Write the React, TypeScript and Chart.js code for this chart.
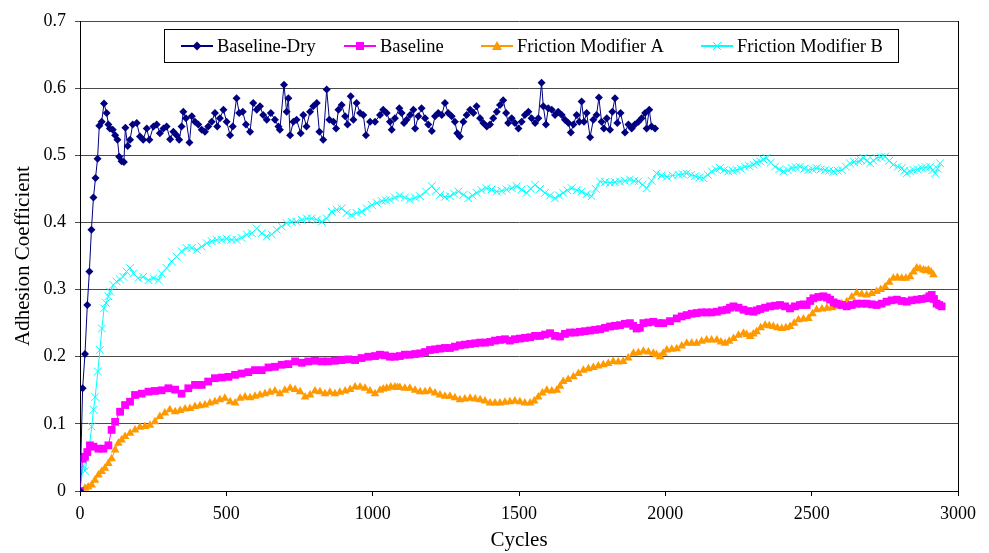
import React, { useEffect, useRef } from 'react';
import { Chart, registerables } from 'chart.js';

Chart.register(...registerables);

const seriesNames = ['Baseline-Dry', 'Baseline', 'Friction Modifier A', 'Friction Modifier B'];
const seriesColors = ['#000080', '#FF00FF', '#FF9900', '#00FFFF'];
const xTickValues = [0, 500, 1000, 1500, 2000, 2500, 3000];
const yTickValues = [0, 0.1, 0.2, 0.3, 0.4, 0.5, 0.6, 0.7];

const dryCycles = [0, 9, 17, 25, 32, 39, 46, 53, 60, 66, 74, 82, 91, 97, 102, 112, 120, 128, 134, 142, 150, 155, 163, 171, 180, 194, 205, 216, 228, 237, 251, 262, 273, 285, 296, 308, 319, 330, 339, 347, 353, 362, 374, 382, 393, 404, 416, 427, 438, 450, 461, 469, 478, 490, 501, 513, 522, 535, 544, 556, 567, 581, 592, 604, 615, 626, 638, 652, 666, 678, 683, 697, 706, 712, 718, 729, 740, 754, 763, 774, 786, 797, 809, 818, 831, 843, 852, 866, 875, 883, 894, 906, 914, 925, 934, 945, 957, 968, 977, 991, 1008, 1025, 1036, 1048, 1059, 1065, 1076, 1091, 1099, 1107, 1116, 1128, 1139, 1145, 1156, 1167, 1179, 1190, 1202, 1213, 1224, 1236, 1247, 1258, 1270, 1281, 1289, 1298, 1310, 1321, 1333, 1344, 1355, 1367, 1378, 1390, 1401, 1412, 1424, 1435, 1446, 1456, 1463, 1475, 1486, 1498, 1509, 1520, 1532, 1543, 1555, 1566, 1577, 1583, 1592, 1600, 1612, 1623, 1634, 1646, 1657, 1669, 1677, 1686, 1697, 1706, 1714, 1722, 1731, 1743, 1754, 1765, 1773, 1782, 1790, 1800, 1811, 1819, 1828, 1836, 1847, 1862, 1874, 1885, 1896, 1908, 1919, 1931, 1936, 1945, 1953, 1965];
const dryValues = [0, 0.153, 0.204, 0.277, 0.327, 0.389, 0.437, 0.466, 0.495, 0.544, 0.55, 0.577, 0.563, 0.546, 0.54, 0.538, 0.53, 0.523, 0.498, 0.491, 0.49, 0.541, 0.514, 0.523, 0.546, 0.548, 0.528, 0.523, 0.54, 0.523, 0.543, 0.546, 0.533, 0.54, 0.543, 0.524, 0.535, 0.53, 0.523, 0.543, 0.565, 0.555, 0.519, 0.558, 0.55, 0.546, 0.538, 0.535, 0.543, 0.55, 0.563, 0.543, 0.555, 0.568, 0.55, 0.53, 0.543, 0.585, 0.563, 0.565, 0.546, 0.535, 0.578, 0.568, 0.573, 0.56, 0.553, 0.563, 0.553, 0.543, 0.538, 0.605, 0.565, 0.585, 0.53, 0.55, 0.553, 0.533, 0.56, 0.543, 0.565, 0.573, 0.578, 0.535, 0.523, 0.598, 0.553, 0.55, 0.54, 0.568, 0.575, 0.558, 0.546, 0.588, 0.553, 0.578, 0.563, 0.56, 0.53, 0.55, 0.55, 0.56, 0.568, 0.563, 0.55, 0.538, 0.555, 0.57, 0.563, 0.548, 0.553, 0.56, 0.568, 0.54, 0.558, 0.57, 0.555, 0.546, 0.536, 0.558, 0.563, 0.56, 0.578, 0.563, 0.558, 0.55, 0.533, 0.528, 0.55, 0.56, 0.568, 0.563, 0.573, 0.555, 0.548, 0.543, 0.546, 0.555, 0.565, 0.575, 0.582, 0.563, 0.548, 0.555, 0.548, 0.54, 0.55, 0.56, 0.565, 0.555, 0.548, 0.555, 0.608, 0.573, 0.546, 0.57, 0.568, 0.56, 0.565, 0.56, 0.553, 0.548, 0.534, 0.546, 0.56, 0.55, 0.58, 0.55, 0.563, 0.527, 0.553, 0.56, 0.586, 0.55, 0.54, 0.555, 0.538, 0.565, 0.585, 0.548, 0.563, 0.534, 0.546, 0.54, 0.546, 0.55, 0.555, 0.563, 0.54, 0.568, 0.543, 0.54];

const baseCycles = [0, 9, 17, 25, 34, 46, 63, 80, 97, 108, 120, 137, 154, 171, 188, 211, 234, 256, 279, 302, 325, 347, 370, 393, 416, 438, 461, 484, 507, 530, 552, 575, 598, 621, 644, 666, 689, 712, 735, 758, 780, 803, 826, 848, 871, 894, 917, 940, 962, 985, 1008, 1025, 1042, 1059, 1076, 1093, 1110, 1127, 1145, 1162, 1179, 1196, 1213, 1230, 1247, 1264, 1281, 1298, 1315, 1333, 1350, 1367, 1384, 1401, 1418, 1435, 1452, 1469, 1486, 1503, 1520, 1538, 1555, 1572, 1589, 1606, 1623, 1640, 1657, 1674, 1691, 1708, 1725, 1743, 1760, 1777, 1794, 1811, 1828, 1845, 1862, 1879, 1890, 1902, 1913, 1925, 1942, 1959, 1976, 1993, 2016, 2039, 2056, 2073, 2090, 2107, 2124, 2141, 2158, 2176, 2193, 2210, 2221, 2233, 2250, 2267, 2284, 2301, 2312, 2324, 2341, 2358, 2375, 2392, 2409, 2426, 2443, 2460, 2472, 2483, 2495, 2506, 2523, 2540, 2552, 2563, 2575, 2586, 2603, 2620, 2637, 2654, 2671, 2688, 2705, 2722, 2739, 2756, 2773, 2791, 2808, 2825, 2842, 2859, 2876, 2893, 2902, 2910, 2918, 2927, 2936, 2944];
const baseValues = [0, 0.048, 0.051, 0.058, 0.068, 0.066, 0.063, 0.063, 0.068, 0.091, 0.103, 0.118, 0.128, 0.133, 0.143, 0.145, 0.148, 0.149, 0.15, 0.153, 0.151, 0.145, 0.153, 0.158, 0.158, 0.163, 0.168, 0.169, 0.17, 0.173, 0.175, 0.177, 0.18, 0.18, 0.184, 0.185, 0.188, 0.189, 0.193, 0.191, 0.193, 0.194, 0.193, 0.193, 0.194, 0.195, 0.196, 0.195, 0.198, 0.2, 0.201, 0.203, 0.202, 0.2, 0.2, 0.201, 0.203, 0.203, 0.204, 0.205, 0.207, 0.21, 0.211, 0.212, 0.213, 0.213, 0.215, 0.217, 0.218, 0.219, 0.22, 0.221, 0.221, 0.222, 0.224, 0.225, 0.226, 0.224, 0.226, 0.227, 0.228, 0.229, 0.231, 0.231, 0.233, 0.235, 0.231, 0.23, 0.234, 0.236, 0.236, 0.237, 0.238, 0.239, 0.24, 0.241, 0.243, 0.245, 0.246, 0.247, 0.249, 0.25, 0.246, 0.242, 0.243, 0.25, 0.251, 0.252, 0.25, 0.25, 0.253, 0.257, 0.26, 0.262, 0.264, 0.265, 0.266, 0.266, 0.266, 0.267, 0.269, 0.27, 0.273, 0.275, 0.273, 0.27, 0.268, 0.267, 0.269, 0.271, 0.273, 0.275, 0.276, 0.277, 0.275, 0.272, 0.275, 0.277, 0.278, 0.277, 0.283, 0.287, 0.289, 0.29, 0.288, 0.285, 0.281, 0.279, 0.277, 0.275, 0.277, 0.279, 0.279, 0.279, 0.278, 0.277, 0.279, 0.282, 0.284, 0.285, 0.283, 0.282, 0.284, 0.285, 0.286, 0.287, 0.29, 0.292, 0.286, 0.279, 0.277, 0.275];

const fmaCycles = [0, 17, 28, 40, 51, 63, 74, 85, 97, 108, 120, 131, 142, 154, 171, 188, 205, 222, 239, 256, 273, 290, 307, 325, 342, 359, 376, 393, 410, 427, 444, 461, 478, 495, 513, 530, 547, 564, 581, 598, 615, 632, 649, 666, 683, 700, 718, 735, 752, 769, 786, 803, 820, 837, 854, 871, 888, 906, 923, 940, 957, 974, 991, 1008, 1025, 1036, 1048, 1062, 1076, 1085, 1093, 1110, 1127, 1145, 1162, 1179, 1196, 1213, 1230, 1247, 1264, 1281, 1298, 1315, 1333, 1350, 1367, 1384, 1401, 1418, 1435, 1452, 1469, 1486, 1503, 1520, 1538, 1552, 1566, 1580, 1595, 1612, 1629, 1640, 1651, 1668, 1686, 1703, 1720, 1737, 1754, 1771, 1788, 1805, 1822, 1839, 1856, 1873, 1891, 1908, 1925, 1942, 1959, 1970, 1982, 1993, 2005, 2022, 2039, 2056, 2073, 2090, 2107, 2124, 2141, 2158, 2176, 2190, 2204, 2218, 2233, 2250, 2267, 2278, 2290, 2301, 2312, 2326, 2341, 2355, 2369, 2383, 2398, 2412, 2426, 2440, 2455, 2472, 2489, 2503, 2517, 2535, 2552, 2569, 2586, 2603, 2620, 2637, 2654, 2671, 2688, 2705, 2722, 2736, 2751, 2765, 2779, 2793, 2808, 2822, 2836, 2848, 2859, 2870, 2882, 2890, 2899, 2908, 2916];
const fmaValues = [0, 0.004, 0.006, 0.009, 0.016, 0.024, 0.029, 0.034, 0.041, 0.048, 0.061, 0.071, 0.076, 0.081, 0.086, 0.091, 0.095, 0.096, 0.098, 0.103, 0.111, 0.116, 0.121, 0.118, 0.12, 0.122, 0.123, 0.126, 0.127, 0.128, 0.131, 0.133, 0.136, 0.138, 0.133, 0.131, 0.138, 0.14, 0.139, 0.141, 0.143, 0.145, 0.147, 0.149, 0.145, 0.15, 0.153, 0.151, 0.148, 0.14, 0.143, 0.149, 0.148, 0.145, 0.147, 0.145, 0.147, 0.149, 0.151, 0.155, 0.155, 0.153, 0.149, 0.145, 0.15, 0.152, 0.153, 0.155, 0.155, 0.154, 0.154, 0.153, 0.153, 0.15, 0.148, 0.148, 0.149, 0.146, 0.143, 0.141, 0.141, 0.139, 0.136, 0.137, 0.138, 0.137, 0.136, 0.134, 0.131, 0.131, 0.131, 0.132, 0.133, 0.134, 0.133, 0.131, 0.131, 0.134, 0.14, 0.146, 0.15, 0.149, 0.15, 0.156, 0.163, 0.166, 0.17, 0.175, 0.18, 0.182, 0.184, 0.186, 0.188, 0.19, 0.193, 0.192, 0.193, 0.198, 0.205, 0.206, 0.208, 0.207, 0.205, 0.203, 0.2, 0.205, 0.21, 0.211, 0.212, 0.216, 0.22, 0.22, 0.22, 0.223, 0.225, 0.225, 0.225, 0.222, 0.22, 0.223, 0.227, 0.232, 0.235, 0.233, 0.23, 0.234, 0.237, 0.243, 0.247, 0.246, 0.245, 0.243, 0.242, 0.243, 0.245, 0.25, 0.255, 0.256, 0.257, 0.264, 0.27, 0.271, 0.272, 0.273, 0.275, 0.279, 0.282, 0.289, 0.295, 0.293, 0.292, 0.294, 0.297, 0.3, 0.304, 0.311, 0.317, 0.318, 0.317, 0.317, 0.319, 0.326, 0.332, 0.331, 0.329, 0.328, 0.329, 0.326, 0.322];

const fmbCycles = [0, 11, 17, 32, 40, 46, 52, 61, 68, 75, 82, 89, 97, 103, 114, 125, 137, 148, 159, 171, 182, 199, 216, 234, 251, 268, 279, 296, 313, 330, 347, 364, 382, 399, 416, 433, 450, 467, 484, 501, 518, 535, 552, 570, 587, 604, 621, 638, 655, 672, 689, 706, 723, 740, 758, 775, 792, 809, 826, 843, 860, 877, 894, 911, 928, 945, 962, 980, 997, 1014, 1031, 1045, 1059, 1076, 1093, 1110, 1127, 1145, 1162, 1182, 1202, 1216, 1230, 1247, 1264, 1278, 1293, 1310, 1327, 1341, 1355, 1372, 1389, 1406, 1424, 1441, 1458, 1475, 1492, 1509, 1526, 1540, 1555, 1572, 1589, 1606, 1623, 1637, 1651, 1665, 1680, 1697, 1714, 1731, 1748, 1762, 1777, 1794, 1811, 1828, 1845, 1862, 1879, 1893, 1908, 1922, 1936, 1953, 1970, 1987, 2005, 2025, 2045, 2059, 2073, 2088, 2102, 2116, 2130, 2145, 2159, 2173, 2187, 2201, 2215, 2230, 2244, 2258, 2272, 2287, 2301, 2312, 2324, 2335, 2346, 2360, 2375, 2389, 2403, 2418, 2432, 2446, 2460, 2475, 2489, 2503, 2517, 2531, 2546, 2560, 2574, 2589, 2603, 2617, 2631, 2645, 2660, 2668, 2677, 2689, 2700, 2711, 2722, 2737, 2751, 2765, 2779, 2794, 2808, 2816, 2825, 2836, 2848, 2862, 2876, 2890, 2905, 2913, 2922, 2930, 2939];
const fmbValues = [0, 0.038, 0.03, 0.066, 0.096, 0.121, 0.14, 0.178, 0.21, 0.242, 0.272, 0.28, 0.29, 0.297, 0.307, 0.312, 0.315, 0.319, 0.327, 0.332, 0.324, 0.317, 0.319, 0.314, 0.317, 0.314, 0.324, 0.332, 0.342, 0.349, 0.357, 0.362, 0.362, 0.359, 0.364, 0.369, 0.372, 0.374, 0.374, 0.376, 0.374, 0.374, 0.377, 0.382, 0.384, 0.391, 0.384, 0.379, 0.382, 0.389, 0.394, 0.399, 0.401, 0.401, 0.404, 0.406, 0.406, 0.404, 0.401, 0.406, 0.416, 0.419, 0.421, 0.414, 0.411, 0.414, 0.416, 0.421, 0.426, 0.429, 0.432, 0.433, 0.434, 0.437, 0.44, 0.437, 0.434, 0.437, 0.439, 0.446, 0.454, 0.447, 0.441, 0.438, 0.439, 0.443, 0.446, 0.441, 0.436, 0.44, 0.444, 0.448, 0.451, 0.449, 0.446, 0.447, 0.449, 0.451, 0.454, 0.449, 0.444, 0.45, 0.456, 0.45, 0.444, 0.44, 0.436, 0.44, 0.444, 0.448, 0.451, 0.448, 0.446, 0.442, 0.439, 0.45, 0.461, 0.46, 0.459, 0.46, 0.461, 0.462, 0.464, 0.462, 0.461, 0.456, 0.451, 0.462, 0.473, 0.47, 0.468, 0.47, 0.471, 0.472, 0.473, 0.471, 0.469, 0.467, 0.466, 0.471, 0.476, 0.479, 0.481, 0.478, 0.476, 0.477, 0.478, 0.48, 0.483, 0.484, 0.486, 0.489, 0.491, 0.494, 0.496, 0.489, 0.483, 0.479, 0.476, 0.478, 0.481, 0.482, 0.483, 0.48, 0.478, 0.479, 0.481, 0.479, 0.478, 0.477, 0.476, 0.477, 0.478, 0.483, 0.488, 0.49, 0.491, 0.493, 0.496, 0.492, 0.488, 0.492, 0.496, 0.497, 0.498, 0.492, 0.486, 0.483, 0.481, 0.477, 0.473, 0.476, 0.478, 0.479, 0.481, 0.482, 0.483, 0.478, 0.473, 0.48, 0.488];

const FONT = '"Liberation Serif", "Times New Roman", serif';

function toPoints(xs: number[], ys: number[]) {
  return xs.map((x, i) => ({ x, y: ys[i] }));
}

function drawMarker(ctx: CanvasRenderingContext2D, kind: number, cx: number, cy: number, color: string) {
  ctx.fillStyle = color;
  ctx.strokeStyle = color;
  ctx.lineWidth = 1;
  ctx.beginPath();
  if (kind === 0) {
    ctx.moveTo(cx, cy - 4.5);
    ctx.lineTo(cx + 4.5, cy);
    ctx.lineTo(cx, cy + 4.5);
    ctx.lineTo(cx - 4.5, cy);
    ctx.closePath();
    ctx.fill();
  } else if (kind === 1) {
    ctx.rect(cx - 4, cy - 4, 8, 8);
    ctx.fill();
  } else if (kind === 2) {
    ctx.moveTo(cx, cy - 5);
    ctx.lineTo(cx + 5, cy + 4);
    ctx.lineTo(cx - 5, cy + 4);
    ctx.closePath();
    ctx.fill();
  } else {
    ctx.moveTo(cx - 4, cy - 4);
    ctx.lineTo(cx + 4, cy + 4);
    ctx.moveTo(cx + 4, cy - 4);
    ctx.lineTo(cx - 4, cy + 4);
    ctx.stroke();
  }
}

const boxLegend = {
  id: 'boxLegend',
  afterDraw(chart: any) {
    const ctx: CanvasRenderingContext2D = chart.ctx;
    const area = chart.chartArea;
    ctx.save();
    ctx.strokeStyle = '#000';
    ctx.lineWidth = 1;
    ctx.beginPath();
    const rx = Math.round(area.right) + 0.5;
    ctx.moveTo(rx, area.top);
    ctx.lineTo(rx, area.bottom);
    ctx.stroke();

    const left = 164, top = 29, right = 898, bottom = 62;
    ctx.fillStyle = '#fff';
    ctx.fillRect(left, top, right - left, bottom - top);
    ctx.strokeStyle = '#000';
    ctx.strokeRect(left + 0.5, top + 0.5, right - left, bottom - top);

    const starts = [181, 344, 481, 701];
    const cy = 46;
    ctx.font = '18.5px ' + FONT;
    ctx.textBaseline = 'middle';
    ctx.textAlign = 'left';
    seriesNames.forEach((name, i) => {
      const x = starts[i];
      const color = seriesColors[i];
      ctx.strokeStyle = color;
      ctx.lineWidth = 2;
      ctx.beginPath();
      ctx.moveTo(x, cy);
      ctx.lineTo(x + 32, cy);
      ctx.stroke();
      drawMarker(ctx, i, x + 16, cy, color);
      ctx.fillStyle = '#000';
      ctx.fillText(name, x + 36, cy + 1);
    });
    ctx.restore();
  },
};

export default function App() {
  const ref = useRef<HTMLCanvasElement | null>(null);

  useEffect(() => {
    if (!ref.current) return;
    const chart = new Chart(ref.current, {
      type: 'line',
      data: {
        datasets: [
          {
            label: seriesNames[0],
            data: toPoints(dryCycles, dryValues),
            borderColor: seriesColors[0],
            backgroundColor: seriesColors[0],
            borderWidth: 1,
            pointStyle: 'rectRot',
            pointRadius: 4,
            pointBackgroundColor: seriesColors[0],
            pointBorderColor: seriesColors[0],
            pointBorderWidth: 0,
            tension: 0,
          },
          {
            label: seriesNames[1],
            data: toPoints(baseCycles, baseValues),
            borderColor: seriesColors[1],
            backgroundColor: seriesColors[1],
            borderWidth: 1,
            pointStyle: 'rect',
            pointRadius: 5.5,
            pointBackgroundColor: seriesColors[1],
            pointBorderColor: seriesColors[1],
            pointBorderWidth: 0,
            tension: 0,
          },
          {
            label: seriesNames[2],
            data: toPoints(fmaCycles, fmaValues),
            borderColor: seriesColors[2],
            backgroundColor: seriesColors[2],
            borderWidth: 1,
            pointStyle: 'triangle',
            pointRadius: 5,
            pointBackgroundColor: seriesColors[2],
            pointBorderColor: seriesColors[2],
            pointBorderWidth: 0,
            tension: 0,
          },
          {
            label: seriesNames[3],
            data: toPoints(fmbCycles, fmbValues),
            borderColor: seriesColors[3],
            backgroundColor: seriesColors[3],
            borderWidth: 1,
            pointStyle: 'crossRot',
            pointRadius: 5.5,
            pointBackgroundColor: seriesColors[3],
            pointBorderColor: seriesColors[3],
            pointBorderWidth: 1,
            tension: 0,
          },
        ],
      },
      options: {
        responsive: false,
        animation: false,
        events: [],
        layout: { padding: { top: 21, right: 31, left: 0, bottom: 0 } },
        plugins: { legend: { display: false }, tooltip: { enabled: false } },
        scales: {
          x: {
            type: 'linear',
            min: xTickValues[0],
            max: xTickValues[xTickValues.length - 1],
            afterBuildTicks: (scale: any) => {
              scale.ticks = xTickValues.map((v) => ({ value: v }));
            },
            afterFit: (scale: any) => {
              scale.height = 62;
            },
            ticks: {
              color: '#000',
              font: { family: FONT, size: 18 },
              padding: 7,
              maxRotation: 0,
              autoSkip: false,
              callback: (v: any) => String(v),
            },
            grid: { drawOnChartArea: false, drawTicks: true, tickLength: 5, color: '#000' },
            border: { color: '#000', width: 1 },
            title: {
              display: true,
              text: 'Cycles',
              color: '#000',
              font: { family: FONT, size: 21 },
              padding: { top: 0, bottom: 0 },
            },
          },
          y: {
            type: 'linear',
            min: yTickValues[0],
            max: yTickValues[yTickValues.length - 1],
            afterBuildTicks: (scale: any) => {
              scale.ticks = yTickValues.map((v) => ({ value: v }));
            },
            afterFit: (scale: any) => {
              scale.width = 80;
            },
            ticks: {
              color: '#000',
              font: { family: FONT, size: 18 },
              padding: 9,
              callback: (v: any) => (Number(v) === 0 ? '0' : Number(v).toFixed(1)),
            },
            grid: { color: '#4a4a4a', lineWidth: 1, tickLength: 5, drawTicks: true },
            border: { color: '#000', width: 1 },
            title: {
              display: true,
              text: 'Adhesion Coefficient',
              color: '#000',
              font: { family: FONT, size: 21 },
              padding: { top: 11, bottom: 0 },
            },
          },
        },
      },
      plugins: [boxLegend],
    } as any);
    return () => chart.destroy();
  }, []);

  return (
    <div style={{ position: 'fixed', left: 0, top: 0, width: 989, height: 553, background: '#fff' }}>
      <canvas ref={ref} width={989} height={553} style={{ display: 'block', width: 989, height: 553 }} />
    </div>
  );
}
